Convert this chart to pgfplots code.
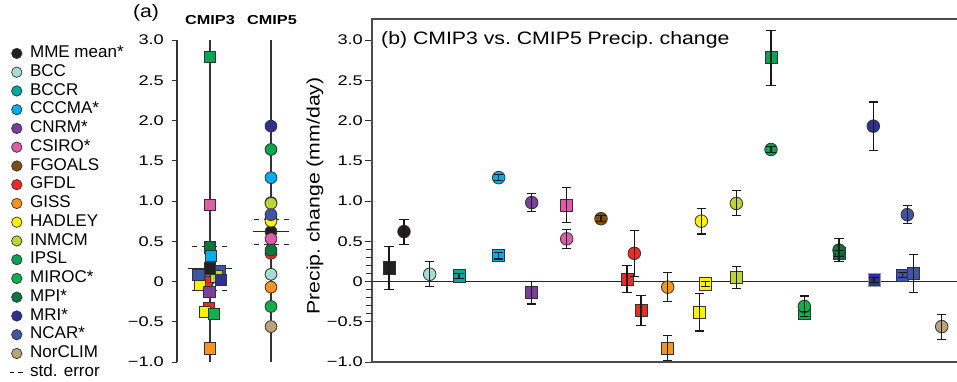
\documentclass[border=0pt]{standalone}
\usepackage{fontspec}
\setmainfont{Liberation Sans}
\newfontfamily\tickfont[FakeStretch=1.3]{Liberation Sans}
\newfontfamily\titlefont[FakeStretch=1.18]{Liberation Sans}
\newfontfamily\hdrfont[FakeStretch=1.25]{Liberation Sans}
\usepackage{pgfplots}
\pgfplotsset{compat=1.18}
\definecolor{edge}{HTML}{333333}
\definecolor{cMME}{HTML}{231F20}
\definecolor{cBCC}{HTML}{A6DCD6}
\definecolor{cBCCR}{HTML}{00A99D}
\definecolor{cCCCMA}{HTML}{00AEEF}
\definecolor{cCNRM}{HTML}{7B3F99}
\definecolor{cCSIRO}{HTML}{DA5FA8}
\definecolor{cFGOALS}{HTML}{7B5010}
\definecolor{cGFDL}{HTML}{EE2A24}
\definecolor{cGISS}{HTML}{F7941E}
\definecolor{cHADLEY}{HTML}{FFF200}
\definecolor{cINMCM}{HTML}{BDD532}
\definecolor{cIPSL}{HTML}{00A651}
\definecolor{cMIROC}{HTML}{0DB04B}
\definecolor{cMPI}{HTML}{007A3D}
\definecolor{cMRI}{HTML}{2E3092}
\definecolor{cNCAR}{HTML}{4155A5}
\definecolor{cNorCLIM}{HTML}{BAA378}
\pgfplotsset{
  sqa/.style={only marks, mark=square*, mark size=5.8pt, mark options={fill=#1, draw=edge, line width=0.8pt, solid}, forget plot},
  cia/.style={only marks, mark=*, mark size=5.9pt, mark options={fill=#1, draw=edge, line width=0.8pt, solid}, forget plot},
  sqb/.style={only marks, mark=square*, mark size=6.1pt, mark options={fill=#1, draw=edge, line width=0.8pt, solid}, forget plot},
  cib/.style={only marks, mark=*, mark size=6.3pt, mark options={fill=#1, draw=edge, line width=0.8pt, solid}, forget plot},
  lg/.style={only marks, mark=*, mark size=5.2pt, mark options={fill=#1, draw=edge, line width=0.7pt, solid}},
}
\begin{document}
\begin{tikzpicture}[x=1pt,y=1pt]
\path[use as bounding box] (0,0) rectangle (957,381);

% ---------------- panel (b)
\begin{axis}[at={(372pt,19pt)}, anchor=south west, scale only axis,
  width=600pt, height=343pt, xmin=372, xmax=972, ymin=-1, ymax=3.2609,
  xtick=\empty, ytick={-1,-0.5,0,0.5,1,1.5,2,2.5,3},
  yticklabels={−1.0,−0.5,0,0.5,1.0,1.5,2.0,2.5,3.0},
  ytick pos=left, tick align=outside, major tick length=7pt,
  yticklabel style={font=\tickfont\fontsize{14}{14}\selectfont, inner sep=1pt},
  yticklabel shift=1pt,
  axis line style={draw=black!70, line width=1.3pt},
  tick style={draw=black!80, line width=1pt},
  extra y ticks={-0.4,-0.3,-0.2,-0.1,0.1,0.2,0.3,0.4},
  extra y tick labels={},
  extra y tick style={major tick length=6pt, tick style={line width=0.8pt}},
  clip=false, clip marker paths=true]
\addplot[black!85, line width=1pt, forget plot] coordinates {(372,0) (972,0)};
% CMIP3 squares
\addplot[sqb=cMME] coordinates {(389,0.17)};
\addplot[sqb=cBCCR] coordinates {(459,0.07)};
\addplot[sqb=cCCCMA] coordinates {(498.7,0.32)};
\addplot[sqb=cCNRM] coordinates {(531.7,-0.14)};
\addplot[sqb=cCSIRO] coordinates {(566.7,0.95)};
\addplot[sqb=cGFDL] coordinates {(627,0.03) (641,-0.36)};
\addplot[sqb=cGISS] coordinates {(667.7,-0.83)};
\addplot[sqb=cHADLEY] coordinates {(699.3,-0.38) (705.3,-0.03)};
\addplot[sqb=cINMCM] coordinates {(736.7,0.05)};
\addplot[sqb=cIPSL] coordinates {(771,2.78)};
\addplot[sqb=cMIROC] coordinates {(804.3,-0.40)};
\addplot[sqb=cMPI] coordinates {(839,0.35)};
\addplot[only marks, mark=square*, mark size=6.1pt, mark options={fill=cMRI, draw=black!40, line width=0.8pt, solid}, forget plot] coordinates {(874,0.02)};
\addplot[sqb=cNCAR] coordinates {(902.3,0.08) (913.3,0.10)};
% CMIP5 circles
\addplot[cib=cMME] coordinates {(404,0.62)};
\addplot[cib=cBCC] coordinates {(429.7,0.09)};
\addplot[cib=cCCCMA] coordinates {(498.7,1.29)};
\addplot[cib=cCNRM] coordinates {(531.7,0.98)};
\addplot[cib=cCSIRO] coordinates {(566.7,0.53)};
\addplot[cib=cFGOALS] coordinates {(601,0.78)};
\addplot[cib=cGFDL] coordinates {(634.3,0.35)};
\addplot[cib=cGISS] coordinates {(667.7,-0.07)};
\addplot[cib=cHADLEY] coordinates {(701.3,0.75)};
\addplot[cib=cINMCM] coordinates {(736.3,0.97)};
\addplot[cib=cIPSL] coordinates {(771,1.64)};
\addplot[cib=cMIROC] coordinates {(804.3,-0.31)};
\addplot[cib=cMPI] coordinates {(839,0.39)};
\addplot[cib=cMRI] coordinates {(873.3,1.93)};
\addplot[cib=cNCAR] coordinates {(907.3,0.83)};
\addplot[cib=cNorCLIM] coordinates {(941.7,-0.56)};
% error bars (vertical part)
\addplot[draw=none, mark=none, forget plot,
  error bars/.cd, y dir=both, y explicit, error mark=none,
  error bar style={draw=black!90, line width=1.1pt, solid}]
coordinates {
(389,0.17) +- (0,0.27)
(459,0.07) +- (0,0.03)
(498.7,0.32) +- (0,0.04)
(531.7,-0.14) +- (0,0.14)
(566.7,0.95) +- (0,0.22)
(627,0.03) +- (0,0.17)
(641,-0.36) +- (0,0.19)
(667.7,-0.83) +- (0,0.155)
(699.3,-0.38) +- (0,0.235)
(705.3,-0.03) +- (0,0.03)
(736.7,0.05) +- (0,0.14)
(771,2.78) +- (0,0.34)
(804.3,-0.40) +- (0,0.03)
(839,0.35) +- (0,0.04)
(874,0.02) +- (0,0.03)
(902.3,0.08) +- (0,0.03)
(913.3,0.10) +- (0,0.24)
(404,0.62) +- (0,0.155)
(429.7,0.09) +- (0,0.155)
(498.7,1.29) +- (0,0.04)
(531.7,0.98) +- (0,0.11)
(566.7,0.53) +- (0,0.115)
(601,0.78) +- (0,0.04)
(634.3,0.35) +- (0,0.285)
(667.7,-0.07) +- (0,0.18)
(701.3,0.75) +- (0,0.16)
(736.3,0.97) +- (0,0.155)
(771,1.64) +- (0,0.04)
(804.3,-0.31) +- (0,0.13)
(839,0.39) +- (0,0.14)
(873.3,1.93) +- (0,0.3)
(907.3,0.83) +- (0,0.11)
(941.7,-0.56) +- (0,0.155)
};
% error bar caps (value - error, value + error)
\addplot[only marks, mark=-, mark size=4.7pt, mark options={draw=black!90, line width=1.1pt, solid}, forget plot]
coordinates {
(389,-0.10) (389,0.44)
(459,0.04) (459,0.10)
(498.7,0.28) (498.7,0.36)
(531.7,-0.28) (531.7,0.00)
(566.7,0.73) (566.7,1.17)
(627,-0.14) (627,0.20)
(641,-0.55) (641,-0.17)
(667.7,-0.985) (667.7,-0.675)
(699.3,-0.615) (699.3,-0.145)
(705.3,-0.06) (705.3,0.00)
(736.7,-0.09) (736.7,0.19)
(771,2.44) (771,3.12)
(804.3,-0.43) (804.3,-0.37)
(839,0.31) (839,0.39)
(874,-0.01) (874,0.05)
(902.3,0.05) (902.3,0.11)
(913.3,-0.14) (913.3,0.34)
(404,0.465) (404,0.775)
(429.7,-0.065) (429.7,0.245)
(498.7,1.25) (498.7,1.33)
(531.7,0.87) (531.7,1.09)
(566.7,0.415) (566.7,0.645)
(601,0.74) (601,0.82)
(634.3,0.065) (634.3,0.635)
(667.7,-0.25) (667.7,0.11)
(701.3,0.59) (701.3,0.91)
(736.3,0.815) (736.3,1.125)
(771,1.60) (771,1.68)
(804.3,-0.44) (804.3,-0.18)
(839,0.25) (839,0.53)
(873.3,1.63) (873.3,2.23)
(907.3,0.72) (907.3,0.94)
(941.7,-0.715) (941.7,-0.405)
};
\end{axis}

% ---------------- panel (a)
\begin{axis}[at={(177pt,19pt)}, anchor=south west, scale only axis,
  width=123pt, height=322pt, xmin=177, xmax=300, ymin=-1, ymax=3,
  axis x line=none, axis y line=left, xtick=\empty,
  y axis line style={-, draw=black!80, line width=1.2pt},
  ytick={-1,-0.5,0,0.5,1,1.5,2,2.5,3},
  yticklabels={−1.0,−0.5,0,0.5,1.0,1.5,2.0,2.5,3.0},
  tick align=outside, major tick length=5pt,
  tick style={draw=black!80, line width=1pt},
  yticklabel style={font=\tickfont\fontsize{14}{14}\selectfont, inner sep=1pt},
  yticklabel shift=7pt,
  clip=false, clip marker paths=true,
  legend cell align=left,
  legend style={at={(-1.3618,0.9823)}, anchor=north west, draw=none, fill=none,
    inner sep=0pt, outer sep=0pt, row sep=3.25pt, column sep=5.5pt,
    font=\fontsize{17}{17}\selectfont,
    nodes={inner sep=0pt, text height=12pt, text depth=3.5pt}}]
\addlegendimage{lg=cMME}\addlegendentry{MME mean*}
\addlegendimage{lg=cBCC}\addlegendentry{BCC}
\addlegendimage{lg=cBCCR}\addlegendentry{BCCR}
\addlegendimage{lg=cCCCMA}\addlegendentry{CCCMA*}
\addlegendimage{lg=cCNRM}\addlegendentry{CNRM*}
\addlegendimage{lg=cCSIRO}\addlegendentry{CSIRO*}
\addlegendimage{lg=cFGOALS}\addlegendentry{FGOALS}
\addlegendimage{lg=cGFDL}\addlegendentry{GFDL}
\addlegendimage{lg=cGISS}\addlegendentry{GISS}
\addlegendimage{lg=cHADLEY}\addlegendentry{HADLEY}
\addlegendimage{lg=cINMCM}\addlegendentry{INMCM}
\addlegendimage{lg=cIPSL}\addlegendentry{IPSL}
\addlegendimage{lg=cMIROC}\addlegendentry{MIROC*}
\addlegendimage{lg=cMPI}\addlegendentry{MPI*}
\addlegendimage{lg=cMRI}\addlegendentry{MRI*}
\addlegendimage{lg=cNCAR}\addlegendentry{NCAR*}
\addlegendimage{lg=cNorCLIM}\addlegendentry{NorCLIM}
\addlegendimage{legend image code/.code={\draw[black, line width=0.9pt, dash pattern=on 4.5pt off 4pt] (0.06cm,0) -- (0.56cm,0);}}\addlegendentry{std. error}
% vertical lines
\addplot[black!80, line width=1.2pt, forget plot] coordinates {(210,-1) (210,3)};
\addplot[black!80, line width=1.2pt, forget plot] coordinates {(271,-1) (271,3)};
% mean and std error lines
\addplot[black!85, line width=1.1pt, forget plot] coordinates {(188,0.16) (232,0.16)};
\addplot[black!85, line width=1pt, dash pattern=on 5pt off 5pt, forget plot] coordinates {(191.7,0.44) (228,0.44)};
\addplot[black!85, line width=1pt, dash pattern=on 5pt off 5pt, forget plot] coordinates {(191.7,-0.11) (228,-0.11)};
\addplot[black!85, line width=1.1pt, forget plot] coordinates {(252.7,0.62) (289,0.62)};
\addplot[black!85, line width=1pt, dash pattern=on 5pt off 5pt, forget plot] coordinates {(254,0.776) (289,0.776)};
\addplot[black!85, line width=1pt, dash pattern=on 5pt off 5pt, forget plot] coordinates {(254,0.456) (289,0.456)};
% CMIP3 squares
\addplot[sqa=cMPI] coordinates {(210,0.42)};
\addplot[sqa=cNCAR] coordinates {(219.7,0.13)};
\addplot[sqa=cBCCR] coordinates {(208,0.05)};
\addplot[sqa=cGFDL] coordinates {(207,-0.01)};
\addplot[sqa=cGFDL] coordinates {(209,-0.33)};
\addplot[sqa=cHADLEY] coordinates {(200,-0.04)};
\addplot[sqa=cHADLEY] coordinates {(205,-0.38)};
\addplot[sqa=cNCAR] coordinates {(198.3,0.08)};
\addplot[sqa=cINMCM] coordinates {(216.3,0.06)};
\addplot[sqa=cMRI] coordinates {(221,0.02)};
\addplot[sqa=cCCCMA] coordinates {(211,0.32)};
\addplot[sqa=cMME] coordinates {(210,0.16)};
\addplot[sqa=cCNRM] coordinates {(209.3,-0.13)};
\addplot[sqa=cMIROC] coordinates {(214,-0.40)};
\addplot[sqa=cGISS] coordinates {(209.7,-0.83)};
\addplot[sqa=cCSIRO] coordinates {(210,0.95)};
\addplot[sqa=cIPSL] coordinates {(210,2.79)};
% CMIP5 circles
\addplot[cia=cMME] coordinates {(271,0.62)};
\addplot[cia=cBCC] coordinates {(271,0.09)};
\addplot[cia=cCCCMA] coordinates {(271,1.29)};
\addplot[cia=cCNRM] coordinates {(271,0.98)};
\addplot[cia=cCSIRO] coordinates {(271,0.53)};
\addplot[cia=cFGOALS] coordinates {(271,0.78)};
\addplot[cia=cGFDL] coordinates {(271,0.35)};
\addplot[cia=cGISS] coordinates {(271,-0.07)};
\addplot[cia=cHADLEY] coordinates {(271,0.75)};
\addplot[cia=cINMCM] coordinates {(271,0.97)};
\addplot[cia=cIPSL] coordinates {(271,1.64)};
\addplot[cia=cMIROC] coordinates {(271,-0.31)};
\addplot[cia=cMPI] coordinates {(271,0.39)};
\addplot[cia=cMRI] coordinates {(271,1.93)};
\addplot[cia=cNCAR] coordinates {(271,0.83)};
\addplot[cia=cNorCLIM] coordinates {(271,-0.56)};
\end{axis}

% ---------------- texts
\node[anchor=west, inner sep=0pt, font=\titlefont\fontsize{18}{18}\selectfont] at (381,341) {(b) CMIP3 vs.\ CMIP5 Precip.\ change};
\node[rotate=90, inner sep=0pt, font=\titlefont\fontsize{18}{18}\selectfont] at (315,185) {Precip.\ change (mm/day)};
\node[inner sep=0pt, font=\titlefont\fontsize{18}{18}\selectfont] at (146,368) {(a)};
\node[inner sep=0pt, font=\hdrfont\bfseries\fontsize{13}{13}\selectfont] at (210,361) {CMIP3};
\node[inner sep=0pt, font=\hdrfont\bfseries\fontsize{13}{13}\selectfont] at (272,361) {CMIP5};
\end{tikzpicture}
\end{document}
